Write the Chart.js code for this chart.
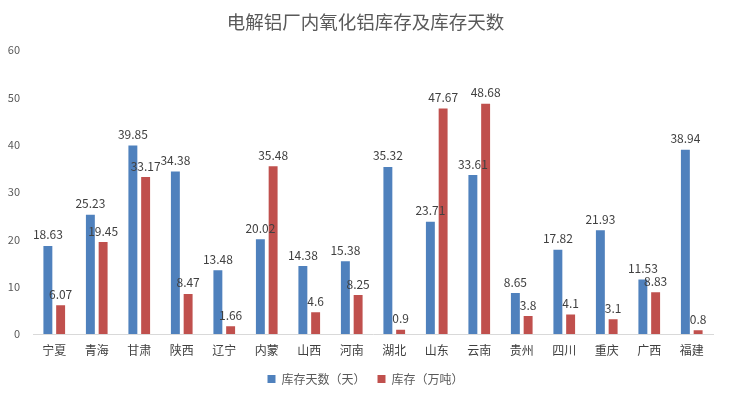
<!DOCTYPE html>
<html><head><meta charset="utf-8">
<script src="https://cdn.jsdelivr.net/npm/chart.js@4/dist/chart.umd.min.js"></script>
<style>html,body{margin:0;padding:0;background:#fff}#w{width:731px;height:398px}</style>
</head><body><div id="w"><canvas id="c"></canvas></div>
<script>
const categories = ['宁夏','青海','甘肃','陕西','辽宁','内蒙','山西','河南','湖北','山东','云南','贵州','四川','重庆','广西','福建'];
const inventoryDays = [18.63,25.23,39.85,34.38,13.48,20.02,14.38,15.38,35.32,23.71,33.61,8.65,17.82,21.93,11.53,38.94];
const inventoryTons = [6.07,19.45,33.17,8.47,1.66,35.48,4.6,8.25,0.9,47.67,48.68,3.8,4.1,3.1,8.83,0.8];
const yTicks = [0,10,20,30,40,50,60];

const FONT = '"Noto Sans CJK SC", "Noto Sans", sans-serif';

const labelPlugin = {
  id: 'barLabels',
  afterLayout(chart) {
    const tb = chart.titleBlock;
    if (tb) { tb.left = 0; tb.right = chart.width; tb.width = chart.width; }
    const lg = chart.legend;
    if (lg) { lg.left = 0; lg.right = chart.width; lg.width = chart.width; }
  },
  afterDatasetsDraw(chart) {
    const ctx = chart.ctx;
    ctx.save();
    ctx.font = '12px ' + FONT;
    ctx.fillStyle = '#404040';
    ctx.textAlign = 'center';
    ctx.textBaseline = 'bottom';
    chart.data.datasets.forEach((ds, di) => {
      const meta = chart.getDatasetMeta(di);
      meta.data.forEach((bar, i) => {
        ctx.fillText(String(ds.data[i]), bar.x, bar.y - 5);
      });
    });
    ctx.restore();
  }
};

new Chart(document.getElementById('c'), {
  type: 'bar',
  data: {
    labels: categories,
    datasets: [
      {label: '库存天数（天）', data: inventoryDays, backgroundColor: '#4F81BD', barPercentage: 0.7, categoryPercentage: 0.6},
      {label: '库存（万吨）', data: inventoryTons, backgroundColor: '#C0504D', barPercentage: 0.7, categoryPercentage: 0.6}
    ]
  },
  options: {
    responsive: true,
    maintainAspectRatio: false,
    animation: false,
    layout: {padding: {left: 0, right: 18, top: 4, bottom: 3}},
    plugins: {
      title: {display: true, text: '电解铝厂内氧化铝库存及库存天数', color: '#595959',
        font: {family: FONT, size: 18.5, weight: 'normal'}, padding: {top: 7, bottom: 17}},
      legend: {position: 'bottom', labels: {color: '#595959', font: {family: FONT, size: 12},
        boxWidth: 8, boxHeight: 8, padding: 12}},
      tooltip: {enabled: false}
    },
    scales: {
      x: {
        afterFit(scale) { scale.height = 27; },
        grid: {display: false, drawTicks: false},
        border: {color: '#D9D9D9'},
        ticks: {color: '#404040', font: {family: FONT, size: 12}, padding: 9}
      },
      y: {
        min: 0, max: 60,
        afterBuildTicks(scale) { scale.ticks = yTicks.map(v => ({value: v})); },
        afterFit(scale) { scale.width = 33; },
        grid: {display: false, drawTicks: false},
        border: {display: false},
        ticks: {color: '#595959', font: {family: FONT, size: 11}, padding: 13}
      }
    }
  },
  plugins: [labelPlugin]
});
</script>
</body></html>
